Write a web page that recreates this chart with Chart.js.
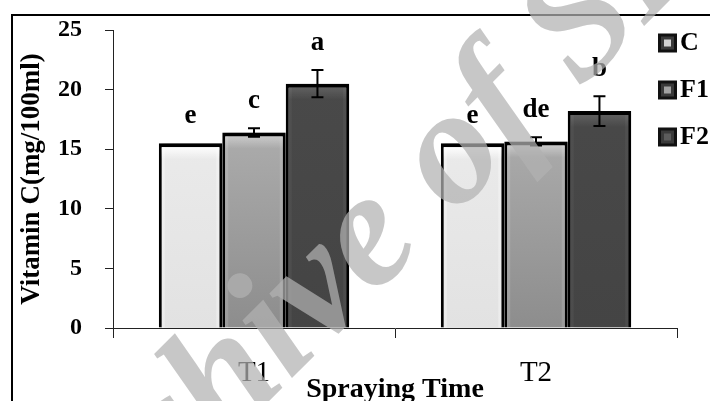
<!DOCTYPE html>
<html><head><meta charset="utf-8">
<script src="https://cdn.jsdelivr.net/npm/chart.js@4.4.1/dist/chart.umd.min.js"></script>
<style>html,body{margin:0;padding:0;background:#fff;overflow:hidden}#wrap{width:710px;height:401px;position:relative}</style>
</head><body><div id="wrap"><canvas id="c" width="710" height="401"></canvas></div>
<script>
// ---- data ----
const categories = ['T1', 'T2'];
const seriesNames = ['C', 'F1', 'F2'];
const valuesC = [15.5, 15.5];
const valuesF1 = [16.4, 15.65];
const valuesF2 = [20.5, 18.2];
const errorsC = [0, 0];
const errorsF1 = [0.35, 0.35];
const errorsF2 = [1.15, 1.25];
const lettersC = ['e', 'e'];
const lettersF1 = ['c', 'de'];
const lettersF2 = ['a', 'b'];
const yTicks = [0, 5, 10, 15, 20, 25];
const yTitle = 'Vitamin C(mg/100ml)';
const xTitle = 'Spraying Time';
const watermark = 'Archive of SID';

// ---- styles ----
const SERIF = '"Liberation Serif", "Times New Roman", serif';
const fillTop = ['#efefef', '#bcbcbc', '#4a4a4a'];
const fillBottom = ['#e2e2e2', '#8d8d8d', '#444444'];
const hiAlpha = [0.9, 0.35, 0.12];
const legendInner = ['#d2d2d2', '#a2a2a2', '#5c5c5c'];

const seriesValues = [valuesC, valuesF1, valuesF2];
const seriesErrors = [errorsC, errorsF1, errorsF2];
const seriesLetters = [lettersC, lettersF1, lettersF2];

function makeFill(i) {
  return function (ctx) {
    const chart = ctx.chart, a = chart.chartArea;
    if (!a) return fillTop[i];
    const g = chart.ctx.createLinearGradient(0, a.top, 0, a.bottom);
    g.addColorStop(0, fillTop[i]);
    g.addColorStop(1, fillBottom[i]);
    return g;
  };
}

const shadowPlugin = {
  id: 'shadow',
  beforeDatasetsDraw(chart) {
    const c = chart.ctx; c.save();
    c.shadowColor = 'rgba(0,0,0,0.35)'; c.shadowBlur = 5; c.shadowOffsetX = 3; c.shadowOffsetY = 0;
  },
  afterDatasetsDraw(chart) {
    const c = chart.ctx; c.restore();
    const y = chart.scales.y;
    // bevel highlights
    chart.data.datasets.forEach((ds, i) => {
      chart.getDatasetMeta(i).data.forEach((el) => {
        const p = el.getProps(['x', 'y', 'base', 'width'], true);
        const l = p.x - p.width / 2 + 3, r = p.x + p.width / 2 - 3, t = p.y + 4;
        const g = c.createLinearGradient(0, t, 0, t + 12);
        g.addColorStop(0, 'rgba(255,255,255,' + hiAlpha[i] + ')');
        g.addColorStop(1, 'rgba(255,255,255,0)');
        c.fillStyle = g; c.fillRect(l, t, r - l, 12);
        c.fillStyle = 'rgba(255,255,255,' + hiAlpha[i] * 0.35 + ')';
        c.fillRect(l, t, 3, p.base - t);
        c.fillRect(r - 3, t, 3, p.base - t);
      });
    });
    // error bars + letters
    c.save();
    c.strokeStyle = '#000'; c.fillStyle = '#000'; c.lineWidth = 2;
    chart.data.datasets.forEach((ds, i) => {
      chart.getDatasetMeta(i).data.forEach((el, j) => {
        const v = seriesValues[i][j], e = seriesErrors[i][j];
        const x = el.x;
        if (e > 0) {
          const yt = y.getPixelForValue(v + e), yb = y.getPixelForValue(v - e);
          c.beginPath();
          c.moveTo(x, yt); c.lineTo(x, yb);
          c.moveTo(x - 6, yt); c.lineTo(x + 6, yt);
          c.moveTo(x - 6, yb); c.lineTo(x + 6, yb);
          c.stroke();
        }
        const top = y.getPixelForValue(v + e);
        c.font = 'bold 27px ' + SERIF;
        c.textAlign = 'center'; c.textBaseline = 'alphabetic';
        c.fillText(seriesLetters[i][j], x, top - 20);
      });
    });
    c.restore();
  }
};

const decorPlugin = {
  id: 'decor',
  afterDraw(chart) {
    const c = chart.ctx;
    c.save();
    // legend
    seriesNames.forEach((n, i) => {
      const cy = 43 + i * 47, x = 658, s = 19, t = cy - s / 2;
      c.fillStyle = '#111'; c.fillRect(x, t, s, s);
      c.fillStyle = '#3a3a3a'; c.fillRect(x + 3, t + 3, s - 6, s - 6);
      c.fillStyle = legendInner[i]; c.fillRect(x + 6, t + 6, s - 12, s - 12);
      c.fillStyle = '#000';
      c.font = 'bold 26px ' + SERIF;
      c.textAlign = 'left'; c.textBaseline = 'middle';
      c.fillText(n, 680, cy);
    });
    // frame
    c.fillStyle = '#000';
    c.fillRect(11, 14, 699, 2);
    c.fillRect(11, 14, 2, 387);
    // watermark
    c.translate(49, 621);
    c.rotate(-Math.PI / 4);
    c.font = 'italic bold 165px ' + SERIF;
    c.fillStyle = 'rgba(178,178,178,0.72)';
    c.textAlign = 'left'; c.textBaseline = 'alphabetic';
    c.fillText(watermark, 0, 0);
    c.restore();
  }
};

new Chart(document.getElementById('c'), {
  type: 'bar',
  data: {
    labels: categories,
    datasets: seriesNames.map((n, i) => ({
      label: n,
      data: seriesValues[i],
      backgroundColor: makeFill(i),
      borderColor: '#000',
      borderWidth: { top: 4, left: 3, right: 3, bottom: 0 },
      barPercentage: 1.0,
      categoryPercentage: 0.675
    }))
  },
  options: {
    responsive: false,
    animation: false,
    devicePixelRatio: 1,
    layout: { padding: { left: 0, right: 33, top: 30, bottom: 0 } },
    plugins: { legend: { display: false }, tooltip: { enabled: false } },
    scales: {
      x: {
        grid: { offset: true, drawOnChartArea: false, drawTicks: true, tickLength: 10, color: '#222', lineWidth: 1 },
        border: { display: true, color: '#222', width: 1 },
        ticks: { color: '#000', font: { family: SERIF, size: 29 }, padding: 18 },
        title: { display: true, text: xTitle, color: '#000', font: { family: SERIF, size: 28, weight: 'bold', lineHeight: 0.8 }, padding: { top: 0, bottom: 0 } },
        afterFit(s) { s.height = 73; }
      },
      y: {
        min: 0, max: 25,
        afterBuildTicks(s) { s.ticks = yTicks.map(v => ({ value: v })); },
        grid: { drawOnChartArea: false, drawTicks: true, tickLength: 8, color: '#222', lineWidth: 1 },
        border: { display: true, color: '#222', width: 1 },
        ticks: { color: '#000', font: { family: SERIF, size: 24, weight: 'bold' }, padding: 23 },
        title: { display: true, text: yTitle, color: '#000', font: { family: SERIF, size: 27, weight: 'bold' }, padding: { top: 16, bottom: 0 } },
        afterFit(s) { s.width = 113; s.paddingTop = 0; s.paddingBottom = 0; }
      }
    }
  },
  plugins: [shadowPlugin, decorPlugin]
});
</script>
</body></html>
